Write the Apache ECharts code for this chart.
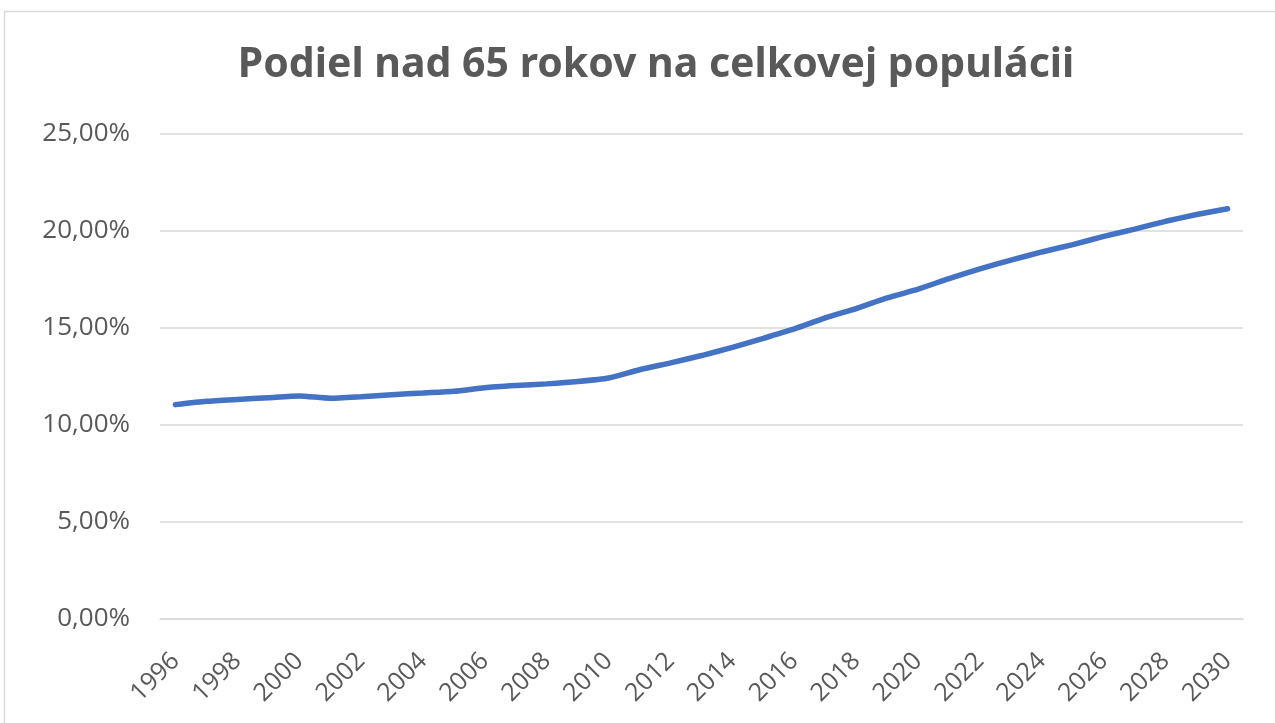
<!DOCTYPE html>
<html>
<head>
<meta charset="utf-8">
<script src="https://cdn.jsdelivr.net/npm/echarts@6/dist/echarts.min.js"></script>
<style>
  html, body { margin: 0; padding: 0; background: #fff; }
  #main { width: 1275px; height: 723px; }
</style>
</head>
<body>
<div id="main"></div>
<script>
var years = [];
for (var y = 1996; y <= 2030; y++) years.push(String(y));

// podiel obyvatelov nad 65 rokov (%)
var share65 = [
  11.05, 11.22, 11.32, 11.41, 11.50, 11.38, 11.46, 11.56, 11.65, 11.74,
  11.92, 12.03, 12.12, 12.24, 12.42, 12.85, 13.20, 13.58, 14.00, 14.47,
  14.95, 15.52, 16.00, 16.55, 17.00, 17.55, 18.05, 18.50, 18.92, 19.30,
  19.72, 20.10, 20.50, 20.85, 21.15
];

var chart = echarts.init(document.getElementById('main'));
var txt = '#595959';

function pct(v) {
  return v.toFixed(2).replace('.', ',') + '%';
}

chart.setOption({
  animation: false,
  title: {
    text: 'Podiel nad 65 rokov na celkovej populácii',
    left: 651,
    top: 40,
    textAlign: 'center',
    textStyle: {
      fontFamily: 'Noto Sans',
      fontWeight: 'bold',
      fontSize: 41,
      color: txt
    }
  },
  graphic: [{
    type: 'rect',
    shape: { x: 4.5, y: 11.5, width: 1300, height: 800 },
    style: { fill: 'none', stroke: '#d9d9d9', lineWidth: 1.5 },
    silent: true
  }],
  grid: { left: 160, right: 32, top: 134, bottom: 104 },
  xAxis: {
    type: 'category',
    data: years,
    boundaryGap: true,
    axisLine: { lineStyle: { color: '#d9d9d9', width: 1.5 } },
    axisTick: { show: false },
    axisLabel: {
      interval: 1,
      rotate: 45,
      color: txt,
      fontFamily: 'Open Sans',
      fontSize: 25,
      margin: 38
    }
  },
  yAxis: {
    type: 'value',
    min: 0,
    max: 25,
    interval: 5,
    axisLine: { show: false },
    axisTick: { show: false },
    splitLine: { lineStyle: { color: '#d9d9d9', width: 1.5 } },
    axisLabel: {
      color: txt,
      fontFamily: 'Open Sans',
      fontSize: 26,
      margin: 30,
      formatter: pct
    }
  },
  series: [{
    type: 'line',
    data: share65,
    smooth: 0.2,
    symbol: 'none',
    lineStyle: { color: '#4472c4', width: 5.5, cap: 'round' }
  }]
});
</script>
</body>
</html>
